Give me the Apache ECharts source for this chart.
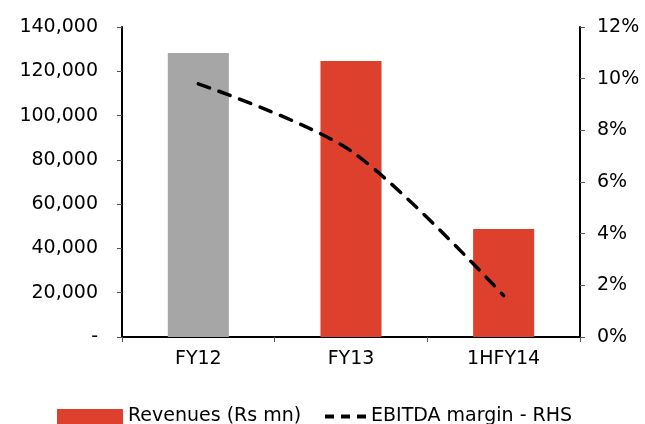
<!DOCTYPE html>
<html>
<head>
<meta charset="utf-8">
<script src="https://cdn.jsdelivr.net/npm/echarts@6/dist/echarts.min.js"></script>
<style>html,body{margin:0;padding:0;background:#fff}#c{width:645px;height:424px}</style>
</head>
<body>
<div id="c"></div>
<script>
const categories = ['FY12', 'FY13', '1HFY14'];
const revenues = [128300, 124700, 48800];
const ebitdaMargin = [9.8, 7.2, 1.6];
const barColors = ['#A6A6A6', '#DE402E', '#DE402E'];
const leftTicks = [0, 20000, 40000, 60000, 80000, 100000, 120000, 140000];
const rightTicks = [0, 2, 4, 6, 8, 10, 12];

const FONT = 'DejaVu Sans';
const FS = 19;
const chart = echarts.init(document.getElementById('c'), null, {renderer: 'canvas'});
chart.setOption({
  animation: false,
  backgroundColor: '#fff',
  textStyle: {fontFamily: FONT},
  grid: {left: 122, right: 65, top: 27, bottom: 87, containLabel: false},
  legend: [
    {
      data: [{name: 'Revenues (Rs mn)', icon: 'rect'}],
      left: 52, top: 402,
      itemWidth: 66, itemHeight: 15, itemGap: 8,
      textStyle: {fontFamily: FONT, fontSize: FS, color: '#000'}
    },
    {
      data: [{name: 'EBITDA margin - RHS', icon: 'path://M0,0h9v4h-9z M16,0h9v4h-9z M32,0h9v4h-9z'}],
      left: 320, top: 402,
      itemWidth: 41, itemHeight: 4, itemGap: 8,
      itemStyle: {color: '#000'},
      textStyle: {fontFamily: FONT, fontSize: FS, color: '#000'}
    }
  ],
  xAxis: {
    type: 'category',
    data: categories,
    axisLine: {lineStyle: {color: '#000', width: 2}},
    axisTick: {show: true, length: 5, lineStyle: {color: '#555'}},
    axisLabel: {fontFamily: FONT, fontSize: FS, color: '#000', margin: 13}
  },
  yAxis: [
    {
      type: 'value', min: leftTicks[0], max: leftTicks[leftTicks.length - 1], interval: 20000,
      axisLine: {show: true, lineStyle: {color: '#000', width: 2}},
      axisTick: {show: true, length: 5, lineStyle: {color: '#555'}},
      splitLine: {show: false},
      axisLabel: {
        fontFamily: FONT, fontSize: FS, color: '#000', margin: 24,
        formatter: v => v === 0 ? '-' : v.toLocaleString('en-US')
      }
    },
    {
      type: 'value', min: rightTicks[0], max: rightTicks[rightTicks.length - 1], interval: 2,
      position: 'right',
      axisLine: {show: true, lineStyle: {color: '#000', width: 2}},
      axisTick: {show: true, length: 5, lineStyle: {color: '#555'}},
      splitLine: {show: false},
      axisLabel: {fontFamily: FONT, fontSize: FS, color: '#000', margin: 17, formatter: v => v + '%'}
    }
  ],
  series: [
    {
      name: 'Revenues (Rs mn)',
      type: 'bar',
      barWidth: '40%',
      itemStyle: {color: '#DE402E'},
      data: revenues.map((v, i) => ({value: v, itemStyle: {color: barColors[i]}}))
    },
    {
      name: 'EBITDA margin - RHS',
      type: 'line',
      yAxisIndex: 1,
      smooth: 0.3,
      symbol: 'none',
      itemStyle: {color: '#000'},
      lineStyle: {color: '#000', width: 3.5, type: [12, 10], cap: 'round'},
      data: ebitdaMargin
    }
  ]
});
</script>
</body>
</html>
